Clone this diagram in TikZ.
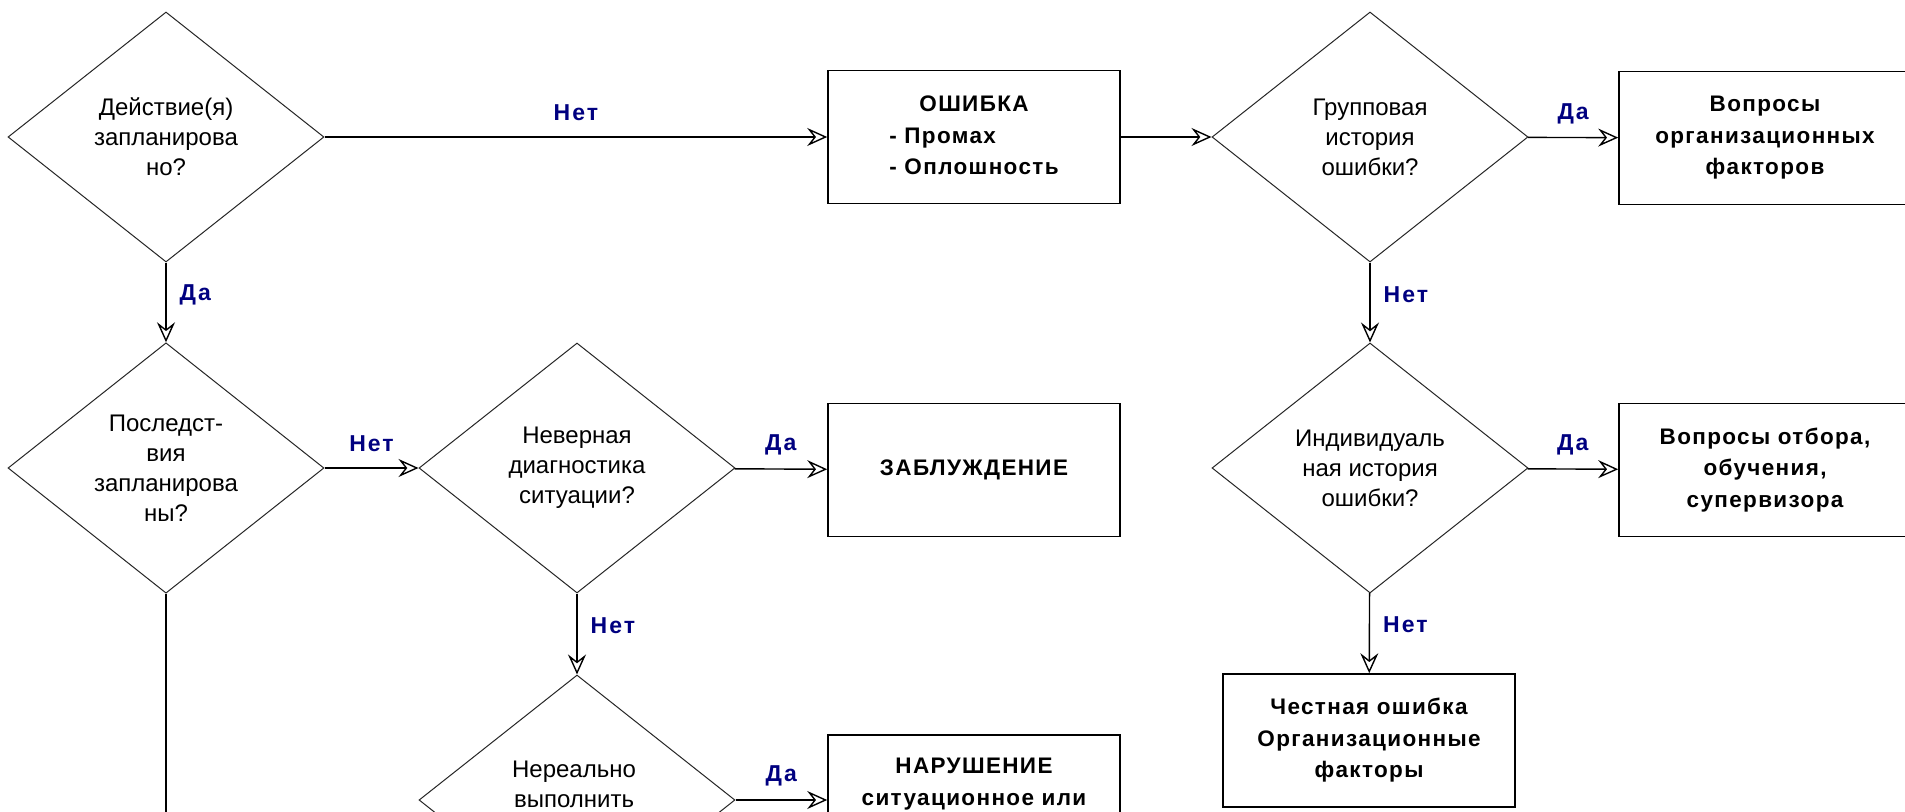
\documentclass[tikz,border=0pt]{standalone}
\usepackage{fontspec}
\setmainfont{Liberation Sans}
\usetikzlibrary{shapes.geometric,arrows.meta}
\definecolor{lblblue}{RGB}{0,0,128}
\newcommand{\boxfont}{\bfseries\addfontfeature{LetterSpace=6}\fontsize{22.5}{31.5}\selectfont}
\newcommand{\yesnofont}{\bfseries\addfontfeature{LetterSpace=9}\fontsize{23}{26}\selectfont}
\begin{document}
\begin{tikzpicture}[x=1pt,y=-1pt,
  question/.style={shape=diamond, draw=black!85, line width=1pt,
    minimum width=316pt, minimum height=250pt, inner sep=0pt,
    align=center, font=\fontsize{24}{30}\selectfont},
  outcome/.style={draw, line width=1.6pt, minimum width=292pt,
    minimum height=133pt, inner sep=0pt, align=center, font=\boxfont},
  boldtxt/.style={inner sep=0pt, align=center, font=\boxfont},
  qtxt/.style={inner sep=0pt, align=center, font=\fontsize{24}{30}\selectfont},
  arr/.style={draw, line width=1.4pt,
    -{Stealth[open, length=20pt, width=18pt, inset=7pt]}},
  plain/.style={draw, line width=1.4pt},
  lbl/.style={inner sep=0pt, text=lblblue, font=\yesnofont},
  hlbl/.style={lbl, yshift=24pt},
  vlbl/.style={lbl, pos=0.4, anchor=west, xshift=13pt}]

\useasboundingbox (0,0) rectangle (1905,811);
\clip (0,0) rectangle (1905,811);
\fill[white] (0,0) rectangle (1905,811);

% decision diamonds
\node[question] (planned) at (166,137) {Действие(я)\\запланирова\\но?};
\node[question] (conseq)  at (166,468) {Последст-\\вия\\запланирова\\ны?};
\node[question] (diag)    at (577,468) {Неверная\\диагностика\\ситуации?};
\node[question] (unreal)  at (577,800) {};
\node[qtxt] (unrealtxt) at (574,784.5) {Нереально\\выполнить};
\node[question] (group)   at (1370,137) {Групповая\\история\\ошибки?};
\node[question] (indiv)   at (1370,468) {Индивидуаль\\ная история\\ошибки?};

% outcome boxes
\node[outcome] (err) at (974,137)
  {\begin{tabular}{@{}l@{}}\multicolumn{1}{@{}c@{}}{ОШИБКА}\\- Промах\\- Оплошность\end{tabular}};
\node[outcome] (delusion) at (974,470) {ЗАБЛУЖДЕНИЕ};
\node[outcome] (viol) at (974,801.5) {};
\node[boldtxt] (violtxt) at (974,784) {НАРУШЕНИЕ\\ситуационное или};
\node[outcome] (orgq) at (1765,138) {Вопросы\\организационных\\факторов};
\node[outcome] (trainq) at (1765,470) {Вопросы отбора,\\обучения,\\супервизора};
\node[outcome] (honest) at (1369,740.5) {Честная ошибка\\Организационные\\факторы};

\coordinate (conseqend) at (166,830);

% connectors
\draw[arr] (planned) -- node[hlbl] {Нет} (err);
\draw[arr] (planned) -- node[vlbl] {Да} (conseq);
\draw[arr] (conseq) -- node[hlbl] {Нет} (diag);
\draw[plain] (conseq.south) -- (conseqend);
\draw[arr] (diag) -- node[hlbl] {Да} (delusion);
\draw[arr] (diag) -- node[vlbl] {Нет} (unreal);
\draw[arr] (unreal.east) -- node[hlbl] {Да} (unreal.east -| viol.west);
\draw[arr] (err) -- (group);
\draw[arr] (group) -- node[hlbl] {Да} (orgq);
\draw[arr] (group) -- node[vlbl] {Нет} (indiv);
\draw[arr] (indiv) -- node[hlbl] {Да} (trainq);
\draw[arr] (indiv) -- node[vlbl] {Нет} (honest);
\end{tikzpicture}
\end{document}
